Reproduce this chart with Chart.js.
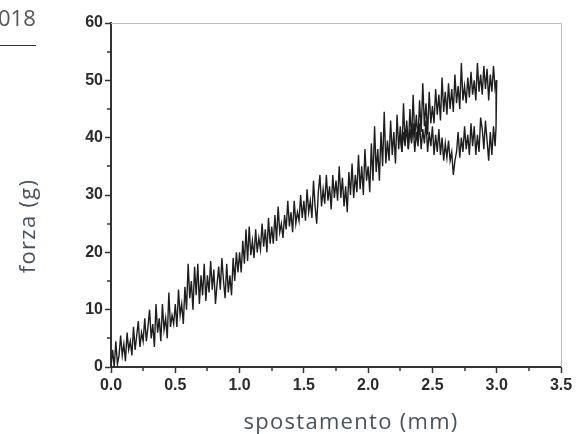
<!DOCTYPE html>
<html><head><meta charset="utf-8">
<script src="https://cdn.jsdelivr.net/npm/chart.js@4/dist/chart.umd.min.js"></script>
<style>
html,body{margin:0;padding:0;background:#fff;}
#wrap{position:relative;width:576px;height:434px;overflow:hidden;background:#fff;}
canvas{position:absolute;left:0;top:0;}
.t{position:absolute;font-family:"Open Sans";color:#46535e;white-space:nowrap;line-height:22px;font-size:22px;letter-spacing:1.3px;}
</style></head><body>
<div id="wrap">
<canvas id="c" width="576" height="434"></canvas>
<div class="t" style="left:-2px;top:6px;font-size:22px;line-height:22px;letter-spacing:0;color:#555">018</div>
<div style="position:absolute;left:0;top:45px;width:36px;height:1px;background:#333"></div>
<div class="t" style="left:351px;top:409px;transform:translateX(-50%)">spostamento (mm)</div>
<div class="t" style="left:26px;top:226px;transform:translate(-50%,-50%) rotate(-90deg)">forza (g)</div>
</div>
<script>
// loading path (carico): displacement (mm) and force (g)
const loadX = [
0.0000,0.0125,0.0250,0.0375,0.0500,0.0625,0.0750,0.0875,0.1000,0.1125,0.1250,0.1375,0.1500,0.1625,0.1750,0.1875,0.2000,0.2125,0.2250,0.2375,
0.2500,0.2625,0.2750,0.2875,0.3000,0.3125,0.3250,0.3375,0.3500,0.3625,0.3750,0.3875,0.4000,0.4125,0.4250,0.4375,0.4500,0.4625,0.4750,0.4875,
0.5000,0.5125,0.5250,0.5375,0.5500,0.5625,0.5750,0.5875,0.6000,0.6125,0.6250,0.6375,0.6500,0.6625,0.6750,0.6875,0.7000,0.7125,0.7250,0.7375,
0.7500,0.7625,0.7750,0.7875,0.8000,0.8125,0.8250,0.8375,0.8500,0.8625,0.8750,0.8875,0.9000,0.9125,0.9250,0.9375,0.9500,0.9625,0.9750,0.9875,
1.0000,1.0125,1.0250,1.0375,1.0500,1.0625,1.0750,1.0875,1.1000,1.1125,1.1250,1.1375,1.1500,1.1625,1.1750,1.1875,1.2000,1.2125,1.2250,1.2375,
1.2500,1.2625,1.2750,1.2875,1.3000,1.3125,1.3250,1.3375,1.3500,1.3625,1.3750,1.3875,1.4000,1.4125,1.4250,1.4375,1.4500,1.4625,1.4750,1.4875,
1.5000,1.5125,1.5250,1.5375,1.5500,1.5625,1.5750,1.5875,1.6000,1.6125,1.6250,1.6375,1.6500,1.6625,1.6750,1.6875,1.7000,1.7125,1.7250,1.7375,
1.7500,1.7625,1.7750,1.7875,1.8000,1.8125,1.8250,1.8375,1.8500,1.8625,1.8750,1.8875,1.9000,1.9125,1.9250,1.9375,1.9500,1.9625,1.9750,1.9875,
2.0000,2.0125,2.0250,2.0375,2.0500,2.0625,2.0750,2.0875,2.1000,2.1125,2.1250,2.1375,2.1500,2.1625,2.1750,2.1875,2.2000,2.2125,2.2250,2.2375,
2.2500,2.2625,2.2750,2.2875,2.3000,2.3125,2.3250,2.3375,2.3500,2.3625,2.3750,2.3875,2.4000,2.4125,2.4250,2.4375,2.4500,2.4625,2.4750,2.4875,
2.5000,2.5125,2.5250,2.5375,2.5500,2.5625,2.5750,2.5875,2.6000,2.6125,2.6250,2.6375,2.6500,2.6625,2.6750,2.6875,2.7000,2.7125,2.7250,2.7375,
2.7500,2.7625,2.7750,2.7875,2.8000,2.8125,2.8250,2.8375,2.8500,2.8625,2.8750,2.8875,2.9000,2.9125,2.9250,2.9375,2.9500,2.9625,2.9750,2.9875,
3.0000];
const loadY = [
0,3,0,4.5,0.5,2,5.5,2,4,1,6,3,4.5,2,7,3,5.5,8,3.5,6,
4.5,8.5,4.5,7,10,5,7.5,3.5,11,6,8.5,4.5,11,6.5,8.5,5,13,7,9,7.5,
11,7,13.5,9,11,7.5,14,10,18,12,15,10,17.5,12.5,18,11,16,12.5,18,11.5,
16,13,18.5,13.5,17,11,14.5,17.5,13.5,19,15,12,18,13,16,12.5,19,15,20,16.5,
20,16.5,22,18,24,18.5,24.5,19.5,22,19,24,20,22.5,20.5,25,21,24,20,26,21.5,
24.5,21.5,26.5,22,28,23.5,25,22.5,26.5,24,29,24.5,27,23.5,29,25,27,25.5,30,26,
29,25.5,31,27,29,26,32.5,28,25,30.5,33.5,28,31,28.5,33.5,29,31.5,27.5,33.5,29.5,
32.5,29,35,29.5,33,28,31.5,27,34,30,35.5,29.5,33.5,30.5,37,31,35,30,38,32.5,
35,30.5,39,32.5,42,34,38,32.5,41,35,44.5,35.5,39.5,36,43,37,41,35.5,44,38,
42,37.5,46,39,43,38,45,39.5,47.5,40,44,39.5,46.5,41,49.5,42,46,40.5,48,42.5,
45.5,42.5,48.5,44,47.5,43,50.5,44.5,48,44,49.5,45,48.5,44.5,51,46,49,45,53,46.5,
49,46,50.5,47,51.5,47.5,50,46.5,53,48,51,47.5,52.5,48.5,52,46.5,51,48,52.5,48.5,
50];
// unloading path (scarico), from 3.0 mm back
const unloadX = [3.0000,2.9950,
2.9875,2.9750,2.9625,2.9500,2.9375,2.9250,2.9125,2.9000,2.8875,2.8750,2.8625,2.8500,2.8375,2.8250,2.8125,2.8000,2.7875,2.7750,2.7625,2.7500,
2.7375,2.7250,2.7125,2.7000,2.6875,2.6750,2.6625,2.6500,2.6375,2.6250,2.6125,2.6000,2.5875,2.5750,2.5625,2.5500,2.5375,2.5250,2.5125,2.5000,
2.4875,2.4750,2.4625,2.4500,2.4375,2.4250,2.4125,2.4000,2.3875,2.3750,2.3625,2.3500,2.3375,2.3250,2.3125,2.3000,2.2875,2.2750,2.2625,2.2500];
const unloadY = [50,42,
38.5,42,37,41,36,39.5,43,38,41.5,43.5,37.5,40.5,37,42,38.5,42.5,37,40.5,38,42,
37.5,40,36.5,41,37.5,36,33.5,37.5,36,39.5,36.5,39,36,40,37,41.5,37.5,40.5,37,42,
38.5,41,37.5,43,39,41.5,38,42.5,38.5,41,37.5,42.5,39,41.5,38,42,38.5,41,37.5,40];
const xTickStep = 0.5, xMax = 3.5;
const yTickStep = 10, yMax = 60;

const pts = (xs, ys) => xs.map((x, i) => ({x, y: ys[i]}));

const framePlugin = {
  id: 'frame',
  beforeDatasetsDraw(chart) {
    const {ctx, chartArea: a} = chart;
    ctx.save();
    ctx.strokeStyle = '#bdbdbd';
    ctx.lineWidth = 1;
    ctx.beginPath();
    ctx.moveTo(a.left, a.top + 0.5); ctx.lineTo(a.right + 0.5, a.top + 0.5);
    ctx.lineTo(a.right + 0.5, a.bottom);
    ctx.stroke();
    ctx.restore();
  },
  afterDraw(chart) {
    const {ctx, chartArea: a, scales} = chart;
    ctx.save();
    ctx.strokeStyle = '#333';
    ctx.lineWidth = 1.5;
    const xs = scales.x, ys = scales.y;
    for (let i = 0; i < xs.ticks.length - 1; i++) {
      const v = (xs.ticks[i].value + xs.ticks[i + 1].value) / 2;
      const p = Math.round(xs.getPixelForValue(v));
      ctx.beginPath(); ctx.moveTo(p, a.bottom); ctx.lineTo(p, a.bottom + 4); ctx.stroke();
    }
    for (let i = 0; i < ys.ticks.length - 1; i++) {
      const v = (ys.ticks[i].value + ys.ticks[i + 1].value) / 2;
      const p = Math.round(ys.getPixelForValue(v));
      ctx.beginPath(); ctx.moveTo(a.left - 4, p); ctx.lineTo(a.left, p); ctx.stroke();
    }
    ctx.restore();
  }
};

const tickFont = {family: '"Liberation Sans", Arial, sans-serif', size: 16, weight: 'bold'};

new Chart(document.getElementById('c'), {
  type: 'scatter',
  data: {
    datasets: [
      {label: 'carico', data: pts(loadX, loadY), showLine: true, borderColor: '#1e1e1e', borderWidth: 1.4, pointRadius: 0, tension: 0},
      {label: 'scarico', data: pts(unloadX, unloadY), showLine: true, borderColor: '#1e1e1e', borderWidth: 1.4, pointRadius: 0, tension: 0}
    ]
  },
  options: {
    responsive: false,
    animation: false,
    devicePixelRatio: 1,
    layout: {padding: {top: 23, right: 15, left: 0, bottom: 0}},
    plugins: {legend: {display: false}, tooltip: {enabled: false}},
    scales: {
      x: {
        type: 'linear', min: 0, max: xMax,
        ticks: {stepSize: xTickStep, callback: v => v.toFixed(1), font: tickFont, color: '#2b2b2b', padding: 3, maxRotation: 0, autoSkip: false},
        grid: {drawOnChartArea: false, drawTicks: true, tickLength: 6, tickColor: '#333', tickWidth: 1.5},
        border: {display: true, color: '#333', width: 2},
        afterFit: s => { s.height = 67; }
      },
      y: {
        min: 0, max: yMax,
        ticks: {stepSize: yTickStep, font: tickFont, color: '#2b2b2b', padding: 2},
        grid: {drawOnChartArea: false, drawTicks: true, tickLength: 6, tickColor: '#333', tickWidth: 1.5},
        border: {display: true, color: '#333', width: 2},
        afterFit: s => { s.width = 111; }
      }
    }
  },
  plugins: [framePlugin]
});
</script>
</body></html>
